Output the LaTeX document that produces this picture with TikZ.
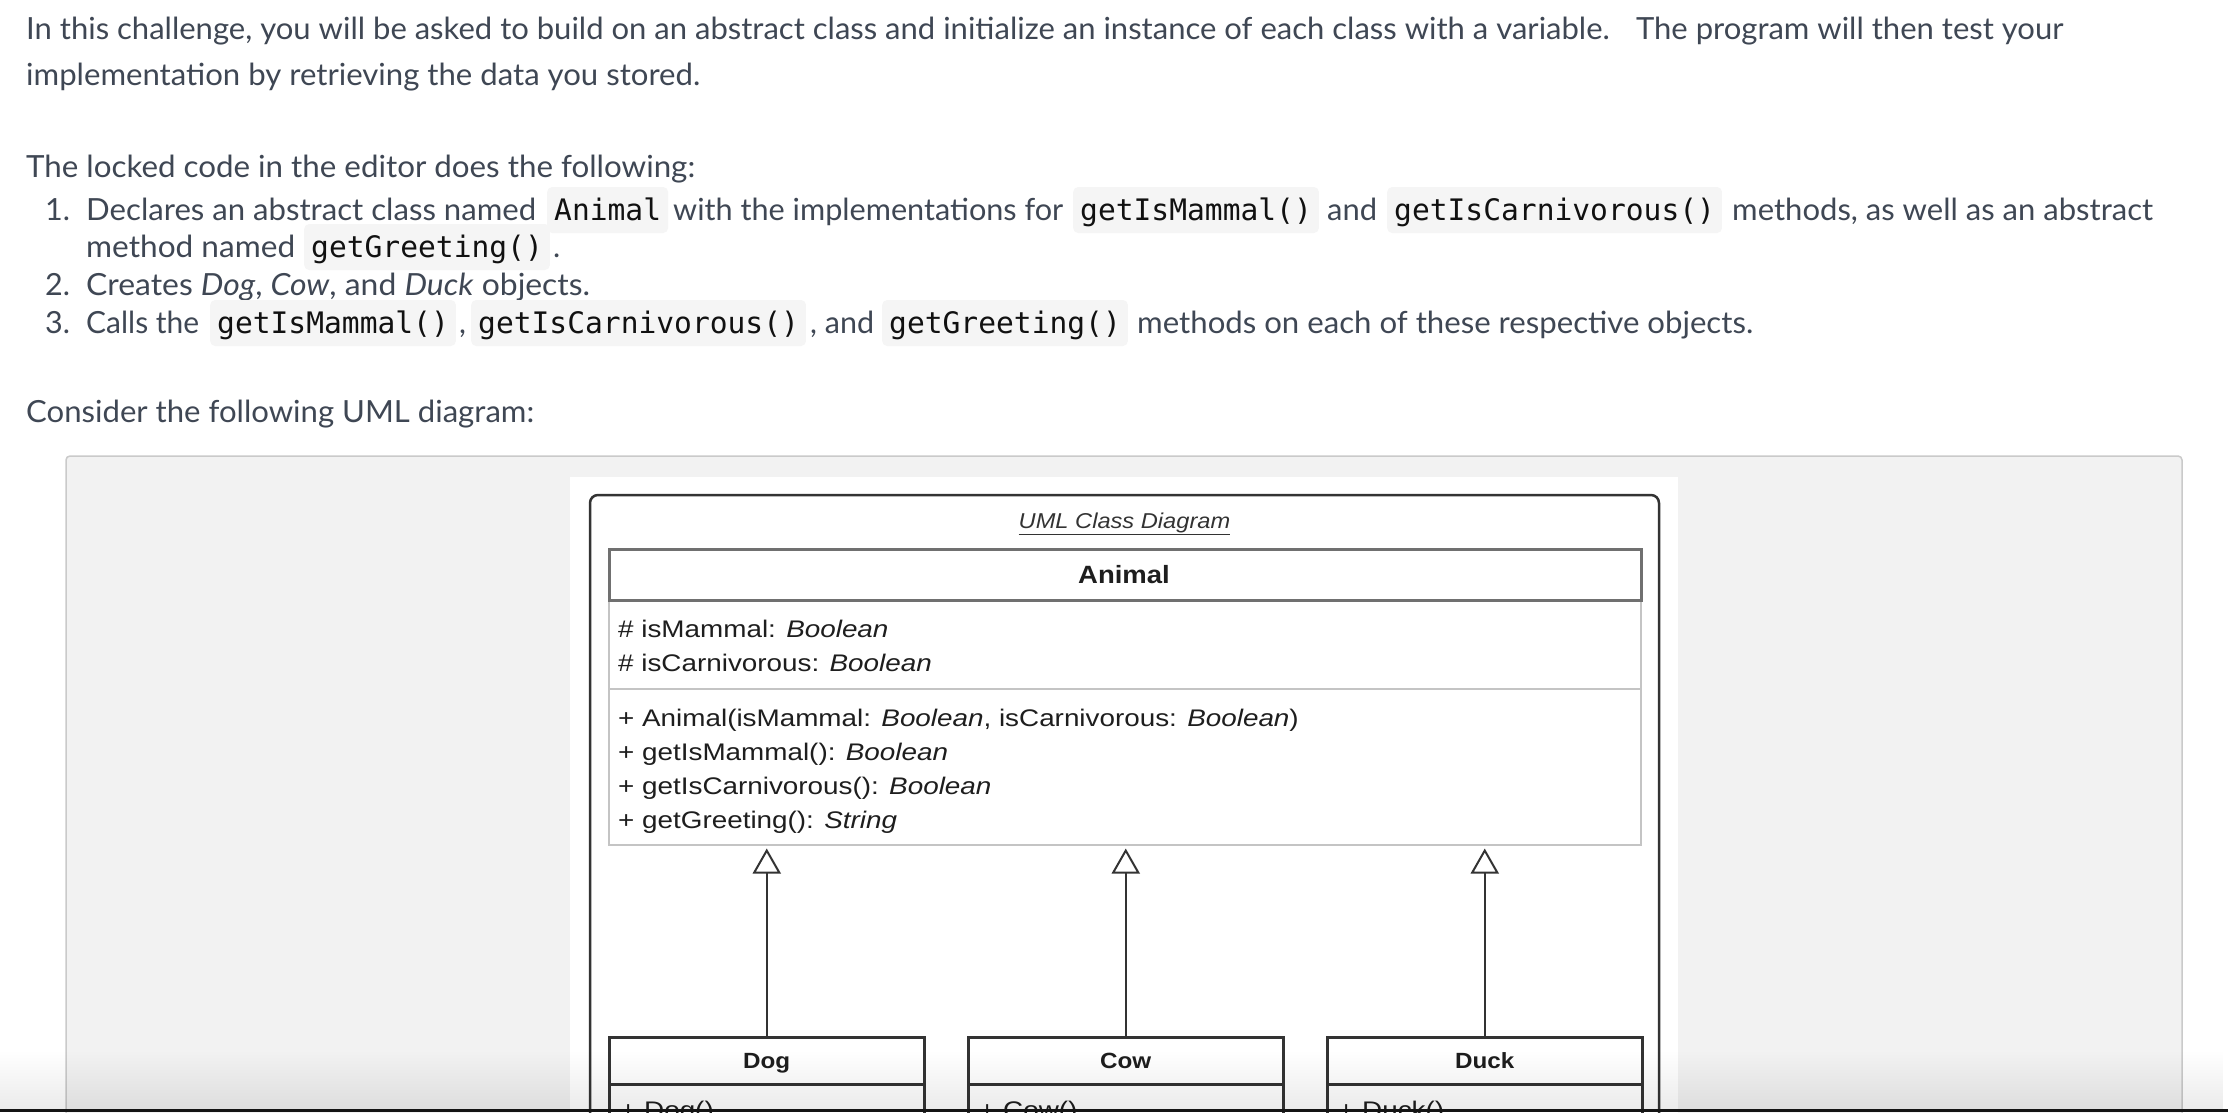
\documentclass[tikz,border=0pt]{standalone}
\usepackage{fontspec}
\setmainfont{Lato}
\newfontfamily\codefont{DejaVu Sans Mono}
\newfontfamily\umlT{Liberation Sans}[FakeStretch=1.10]
\newfontfamily\umlM{Liberation Sans}[FakeStretch=1.16]
\usetikzlibrary{arrows.meta,fadings}
\definecolor{txt}{HTML}{3F4754}
\definecolor{codetxt}{HTML}{111111}
\definecolor{codebg}{HTML}{F5F5F5}
\definecolor{panel}{HTML}{F2F2F2}
\definecolor{panelline}{HTML}{CACACA}
\definecolor{umldark}{HTML}{333333}
\definecolor{umlgray}{HTML}{707070}
\definecolor{umllight}{HTML}{C4C4C4}
\definecolor{umltext}{HTML}{1E1E1E}
\newcommand\fitw[2]{\resizebox{#1pt}{\height}{#2}}
\tikzset{
  body/.style={anchor=base west, inner sep=0pt, text=txt, font=\fontsize{30.5}{36}\selectfont},
  code/.style={anchor=base west, inner xsep=7pt, inner ysep=0pt, text height=33pt, text depth=13pt,
     fill=codebg, rounded corners=5pt, text=codetxt, font=\fontsize{29.6}{34}\codefont},
  sect/.style={anchor=north west, inner sep=0pt, minimum width=1032pt, draw=umllight, line width=1.5pt, fill=white},
  head/.style={anchor=north west, inner sep=0pt, minimum width=1032pt, minimum height=51pt, draw=umlgray, line width=3pt, fill=white},
  mem/.style={anchor=base west, inner sep=0pt, text=umltext, font=\umlM\fontsize{24}{28}\selectfont},
  chhead/.style={anchor=north west, inner sep=0pt, minimum width=315pt, minimum height=47pt, draw=umldark, line width=2.5pt, fill=white},
  chbody/.style={anchor=north west, inner sep=0pt, minimum width=315pt, minimum height=90pt, draw=umldark, line width=2.5pt, fill=white},
  chname/.style={anchor=base, inner sep=0pt, text=umltext, font=\umlT\bfseries\fontsize{22}{26}\selectfont},
  inherit/.style={draw=umldark, line width=2pt, -{Triangle[open, length=25pt, width=28pt]}, shorten >=3pt}
}
\begin{document}
\begin{tikzpicture}[x=1pt,y=-1pt]
\useasboundingbox (0,0) rectangle (2228,1112);
\clip (0,0) rectangle (2228,1112);
\fill[white] (0,0) rectangle (2228,1112);

% ---- paragraph text ----
\node[body] (l1) at (26,39) {\fitw{2037}{In this challenge, you will be asked to build on an abstract class and initialize an instance of each class with a variable.\hspace{0.5em} The program will then test your}};
\node[body] (l2) at (26,85) {\fitw{674}{implementation by retrieving the data you stored.}};
\node[body] (l3) at (26,177) {\fitw{669}{The locked code in the editor does the following:}};

% item 1
\node[body] (n1) at (45,220) {1.};
\node[body] (i1a) at (86,220) {\fitw{450}{Declares an abstract class named}};
\node[code] (c1) at (547,220) {Animal};
\node[body] (i1b) at (673,220) {\fitw{390}{with the implementations for}};
\node[code] (c2) at (1073,220) {getIsMammal()};
\node[body] (i1c) at (1327,220) {\fitw{50}{and}};
\node[code] (c3) at (1387,220) {getIsCarnivorous()};
\node[body] (i1d) at (1732,220) {\fitw{421}{methods, as well as an abstract}};
\node[body] (i1e) at (86,257) {\fitw{209}{method named}};
\node[code] (c4) at (304,257) {getGreeting()};
\node[body] (i1f) at (553,257) {.};

% item 2
\node[body] (n2) at (45,295) {2.};
\node[body] (i2) at (86,295) {\fitw{504}{Creates \textit{Dog}, \textit{Cow}, and \textit{Duck} objects.}};

% item 3
\node[body] (n3) at (45,333) {3.};
\node[body] (i3a) at (86,333) {\fitw{113}{Calls the}};
\node[code] (c5) at (210,333) {getIsMammal()};
\node[body] (i3b) at (459,333) {,};
\node[code] (c6) at (471,333) {getIsCarnivorous()};
\node[body] (i3c) at (810,333) {\fitw{64}{, and}};
\node[code] (c7) at (882,333) {getGreeting()};
\node[body] (i3d) at (1137,333) {\fitw{616}{methods on each of these respective objects.}};

\node[body] (l4) at (26,422) {\fitw{508}{Consider the following UML diagram:}};

% ---- panel ----
\fill[panel, draw=panelline, line width=1.5pt, rounded corners=4pt] (66,456) rectangle (2182,1150);
\fill[white] (570,477) rectangle (1678,1150);
\draw[umldark, line width=2.5pt, rounded corners=8pt] (590,1150) -- (590,495) -- (1659,495) -- (1659,1150);

\node[anchor=base, inner sep=0pt, text=umldark, font=\umlT\itshape\fontsize{21.5}{24}\selectfont] (title) at (1124.5,528) {\underline{UML Class Diagram}};

% Animal class
\node[sect, minimum height=89pt] (attrs) at (608,599) {};
\node[sect, minimum height=156pt] (meth) at (608,688) {};
\node[head] (animal) at (608,548) {};
\node[chname, font=\umlT\bfseries\fontsize{25}{28}\selectfont] (animalname) at (1124,583) {Animal};

\node[mem] (a1) at (618,637) {\# isMammal: \textit{Boolean}};
\node[mem] (a2) at (618,671) {\# isCarnivorous: \textit{Boolean}};
\node[mem] (m1) at (618,726) {+ Animal(isMammal: \textit{Boolean}, isCarnivorous: \textit{Boolean})};
\node[mem] (m2) at (618,760) {+ getIsMammal(): \textit{Boolean}};
\node[mem] (m3) at (618,794) {+ getIsCarnivorous(): \textit{Boolean}};
\node[mem] (m4) at (618,828) {+ getGreeting(): \textit{String}};

% subclasses
\node[chbody] (dogb) at (608,1083) {};
\node[chbody] (cowb) at (967,1083) {};
\node[chbody] (duckb) at (1326,1083) {};
\node[chhead] (dog) at (608,1036) {};
\node[chhead] (cow) at (967,1036) {};
\node[chhead] (duck) at (1326,1036) {};
\node[chname] (dogn) at (dog.center |- 0,1068) {Dog};
\node[chname] (cown) at (cow.center |- 0,1068) {Cow};
\node[chname] (duckn) at (duck.center |- 0,1068) {Duck};
\node[mem] (dogc) at (620,1118) {+ Dog()};
\node[mem] (cowc) at (979,1118) {+ Cow()};
\node[mem] (duckc) at (1338,1118) {+ Duck()};

\draw[inherit] (dog.north) -- (dog.north |- meth.south);
\draw[inherit] (cow.north) -- (cow.north |- meth.south);
\draw[inherit] (duck.north) -- (duck.north |- meth.south);

% bottom shadow and bar
\fill[black, opacity=0.08, path fading=north] (0,1050) rectangle (2228,1109);
\fill[black!92] (0,1109) rectangle (2228,1112);
\end{tikzpicture}
\end{document}
